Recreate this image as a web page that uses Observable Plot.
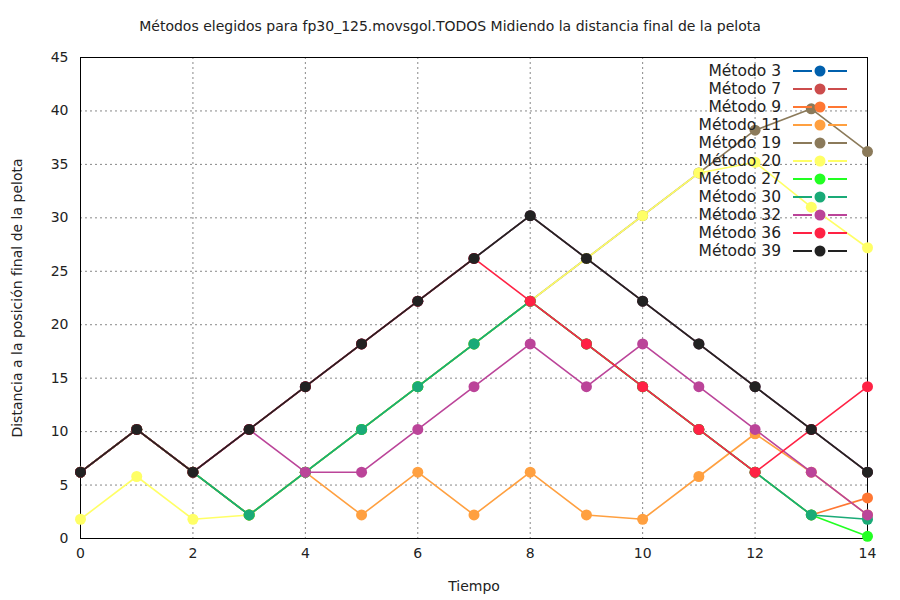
<!DOCTYPE HTML>
<html lang="es">
  <head>
    <meta charset="UTF-8">
    <title>Métodos elegidos</title>
    <style>
      body {margin: 0; background: #fff; font-family: "DejaVu Sans", sans-serif;}
      #wrap {position: relative; width: 900px; height: 600px;}
      #title {position: absolute; top: 18px; left: 0; width: 900px; text-align: center; font-size: 14px; color: #222;}
      #legend {position: absolute; top: 62px; left: 615px; width: 232px; font-size: 15.5px; color: #222;}
      #legend div {display: flex; align-items: center; justify-content: flex-end; height: 18px;}
      #legend svg {margin-left: 12px;}
    </style>
  </head>
  <body>
    <div id="wrap">
      <div id="graph"></div>
      <div id="title">Métodos elegidos para fp30_125.movsgol.TODOS Midiendo la distancia final de la pelota</div>
      <div id="legend"></div>
    </div>
    <script src="https://cdn.jsdelivr.net/npm/d3@7"></script>
    <script src="https://cdn.jsdelivr.net/npm/@observablehq/plot@0.6"></script>
    <script>
      const tiempo = [0, 1, 2, 3, 4, 5, 6, 7, 8, 9, 10, 11, 12, 13, 14];
      const metodos = ['Método 3', 'Método 7', 'Método 9', 'Método 11', 'Método 19', 'Método 20',
        'Método 27', 'Método 30', 'Método 32', 'Método 36', 'Método 39'];
      const colores = ['#0060ad', '#cc4c4c', '#ff7733', '#ffa040', '#8b7a5a', '#ffff66',
        '#22ff22', '#1aaa77', '#bb4499', '#ff2244', '#222222'];
      const m3 = [6.2, 10.2, 6.2, 10.2, 14.2, 18.2, 22.2, 26.2, 30.2, 26.2, 22.2, 18.2, 14.2, 10.2, 6.2];
      const m7 = [6.2, 10.2, 6.2, 10.2, 14.2, 18.2, 22.2, 26.2, 30.2, 26.2, 22.2, 18.2, 14.2, 10.2, 6.2];
      const m9 = [6.2, 10.2, 6.2, 2.2, 6.2, 10.2, 14.2, 18.2, 22.2, 18.2, 14.2, 10.2, 6.2, 2.2, 3.8];
      const m11 = [6.2, 10.2, 6.2, 2.2, 6.2, 2.2, 6.2, 2.2, 6.2, 2.2, 1.8, 5.8, 9.8, 6.2, 2.2];
      const m19 = [6.2, 10.2, 6.2, 2.2, 6.2, 10.2, 14.2, 18.2, 22.2, 26.2, 30.2, 34.2, 38.2, 40.2, 36.2];
      const m20 = [1.8, 5.8, 1.8, 2.2, 6.2, 10.2, 14.2, 18.2, 22.2, 26.2, 30.2, 34.2, 35.2, 31.0, 27.2];
      const m27 = [6.2, 10.2, 6.2, 2.2, 6.2, 10.2, 14.2, 18.2, 22.2, 18.2, 14.2, 10.2, 6.2, 2.2, 0.2];
      const m30 = [6.2, 10.2, 6.2, 2.2, 6.2, 10.2, 14.2, 18.2, 22.2, 18.2, 14.2, 10.2, 6.2, 2.2, 1.8];
      const m32 = [6.2, 10.2, 6.2, 10.2, 6.2, 6.2, 10.2, 14.2, 18.2, 14.2, 18.2, 14.2, 10.2, 6.2, 2.2];
      const m36 = [6.2, 10.2, 6.2, 10.2, 14.2, 18.2, 22.2, 26.2, 22.2, 18.2, 14.2, 10.2, 6.2, 10.2, 14.2];
      const m39 = [6.2, 10.2, 6.2, 10.2, 14.2, 18.2, 22.2, 26.2, 30.2, 26.2, 22.2, 18.2, 14.2, 10.2, 6.2];
      const series = [m3, m7, m9, m11, m19, m20, m27, m30, m32, m36, m39];

      const data = [];
      series.forEach((vals, i) => vals.forEach((v, j) => data.push({metodo: metodos[i], t: tiempo[j], d: v})));

      const marks = [
        Plot.gridX([0, 2, 4, 6, 8, 10, 12, 14], {stroke: '#888', strokeOpacity: 1, strokeDasharray: '2,3'}),
        Plot.gridY(d3.range(0, 46, 5), {stroke: '#888', strokeOpacity: 1, strokeDasharray: '2,3'}),
        Plot.frame({stroke: '#000'})
      ];
      metodos.forEach((m, i) => {
        const rows = data.filter(r => r.metodo === m);
        marks.push(Plot.line(rows, {x: 't', y: 'd', stroke: colores[i], strokeWidth: 1.6}));
        marks.push(Plot.dot(rows, {x: 't', y: 'd', fill: colores[i], r: 5.5}));
      });

      const svg = Plot.plot({
        width: 900,
        height: 600,
        marginLeft: 80,
        marginRight: 33,
        marginTop: 57,
        marginBottom: 62,
        style: {fontFamily: 'DejaVu Sans, sans-serif', fontSize: '14px', color: '#222'},
        x: {domain: [0, 14], ticks: [0, 2, 4, 6, 8, 10, 12, 14], tickSize: 0, tickPadding: 10, label: 'Tiempo', labelAnchor: 'center', labelArrow: 'none', labelOffset: 52},
        y: {domain: [0, 45], ticks: d3.range(0, 46, 5), tickSize: 0, tickPadding: 12, label: 'Distancia a la posición final de la pelota', labelAnchor: 'center', labelArrow: 'none', labelOffset: 68},
        marks
      });
      document.getElementById('graph').append(svg);

      const legend = document.getElementById('legend');
      metodos.forEach((m, i) => {
        const row = document.createElement('div');
        row.innerHTML = `<span>${m}</span><svg width="54" height="12"><line x1="0" y1="6" x2="54" y2="6" stroke="${colores[i]}" stroke-width="2" stroke-dasharray="19,16"/><circle cx="27" cy="6" r="5.5" fill="${colores[i]}"/></svg>`;
        legend.append(row);
      });
    </script>
  </body>
</html>
